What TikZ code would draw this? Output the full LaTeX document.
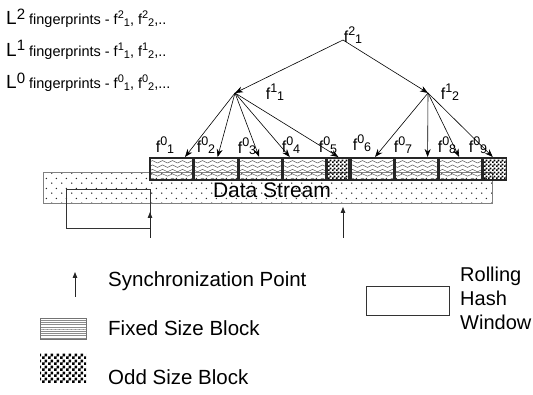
\documentclass[tikz,border=0pt]{standalone}
\usepackage{fontspec}
\setmainfont{Liberation Sans}
\usetikzlibrary{arrows.meta,patterns,calc}

% wavy lines for the fixed size blocks
\pgfdeclarepatternformonly{waves}{\pgfqpoint{-0.5pt}{-2pt}}{\pgfqpoint{10.5pt}{2pt}}{\pgfqpoint{10pt}{4.4pt}}{%
  \pgfsetlinewidth{0.45pt}%
  \pgfpathmoveto{\pgfqpoint{0pt}{0pt}}%
  \pgfpathcurveto{\pgfqpoint{1.8pt}{1.6pt}}{\pgfqpoint{3.2pt}{1.6pt}}{\pgfqpoint{5pt}{0pt}}%
  \pgfpathcurveto{\pgfqpoint{6.8pt}{-1.6pt}}{\pgfqpoint{8.2pt}{-1.6pt}}{\pgfqpoint{10pt}{0pt}}%
  \pgfusepath{stroke}}
% finer waves for the legend swatch
\pgfdeclarepatternformonly{finewaves}{\pgfqpoint{-0.5pt}{-1pt}}{\pgfqpoint{4.5pt}{1pt}}{\pgfqpoint{4pt}{2.2pt}}{%
  \pgfsetlinewidth{0.35pt}%
  \pgfpathmoveto{\pgfqpoint{0pt}{0pt}}%
  \pgfpathcurveto{\pgfqpoint{0.7pt}{0.6pt}}{\pgfqpoint{1.3pt}{0.6pt}}{\pgfqpoint{2pt}{0pt}}%
  \pgfpathcurveto{\pgfqpoint{2.7pt}{-0.6pt}}{\pgfqpoint{3.3pt}{-0.6pt}}{\pgfqpoint{4pt}{0pt}}%
  \pgfusepath{stroke}}
% checkerboards for the odd size blocks
\pgfdeclarepatternformonly{checks}{\pgfqpoint{0pt}{0pt}}{\pgfqpoint{4pt}{4pt}}{\pgfqpoint{4pt}{4pt}}{%
  \pgfpathrectangle{\pgfqpoint{0pt}{0pt}}{\pgfqpoint{2pt}{2pt}}%
  \pgfpathrectangle{\pgfqpoint{2pt}{2pt}}{\pgfqpoint{2pt}{2pt}}%
  \pgfusepath{fill}}
\pgfdeclarepatternformonly{bigchecks}{\pgfqpoint{0pt}{0pt}}{\pgfqpoint{6pt}{6pt}}{\pgfqpoint{6pt}{6pt}}{%
  \pgfpathrectangle{\pgfqpoint{0pt}{0pt}}{\pgfqpoint{3pt}{3pt}}%
  \pgfpathrectangle{\pgfqpoint{3pt}{3pt}}{\pgfqpoint{3pt}{3pt}}%
  \pgfusepath{fill}}
% sparse dots for the data stream
\pgfdeclarepatternformonly{sparsedots}{\pgfqpoint{0pt}{0pt}}{\pgfqpoint{10pt}{10pt}}{\pgfqpoint{10pt}{10pt}}{%
  \pgfpathcircle{\pgfqpoint{2pt}{2pt}}{0.8pt}%
  \pgfpathcircle{\pgfqpoint{7pt}{7pt}}{0.8pt}%
  \pgfusepath{fill}}

% f with superscript level and subscript index
\newcommand\fidx[2]{f\raisebox{0.42em}{\fontsize{12.5}{12}\selectfont #1}\raisebox{-0.05em}{\fontsize{12.5}{12}\selectfont #2}}
\newcommand\fsmall[2]{f\raisebox{0.4em}{\fontsize{11}{11}\selectfont #1}\raisebox{-0.15em}{\fontsize{11}{11}\selectfont #2}}
\newcommand\levelline[3]{{\fontsize{19}{19}\selectfont L\raisebox{0.28em}{\fontsize{15}{15}\selectfont #1}}{\fontsize{14.5}{14}\selectfont\ fingerprints - \fsmall{#1}{1}, \fsmall{#1}{2},#3}}

\begin{document}
\begin{tikzpicture}[x=1pt,y=-1pt,
  tree/.style={-{Stealth[length=8pt,width=6pt]}, line width=0.6pt},
  sync/.style={-{Triangle[length=6pt,width=4.5pt]}, line width=0.8pt, draw=black!85},
  fixedblk/.style={draw=black!85, line width=1.6pt, pattern=waves, pattern color=black!70,
    inner sep=0pt, minimum height=22pt, anchor=north west},
  oddblk/.style={fixedblk, pattern=checks, pattern color=black},
  lbl/.style={font=\fontsize{16}{16}\selectfont, inner sep=0pt},
  legend/.style={font=\fontsize{20.5}{24}\selectfont, anchor=west, inner sep=0pt}]
\useasboundingbox (0,0) rectangle (533,395);

% level captions
\node[anchor=west, inner sep=0pt] (cap2) at (6,18) {\levelline{2}{1}{..}};
\node[anchor=west, inner sep=0pt] (cap1) at (6,50) {\levelline{1}{1}{..}};
\node[anchor=west, inner sep=0pt] (cap0) at (6,82) {\levelline{0}{1}{...}};

% data stream with its blocks
\node[draw=black!50, line width=0.8pt, pattern=sparsedots, pattern color=black!85,
  inner sep=0pt, minimum width=449pt, minimum height=31pt, anchor=north west] (stream) at (43,172) {};
\node[font=\fontsize{21}{21}\selectfont, inner sep=0pt] (streamtxt) at (272,190) {Data Stream};

\node[fixedblk, minimum width=43pt] (b1) at (149,157) {};
\node[fixedblk, minimum width=43pt] (b2) at (b1.north east) {};
\node[fixedblk, minimum width=43pt] (b3) at (b2.north east) {};
\node[fixedblk, minimum width=42pt] (b4) at (b3.north east) {};
\node[oddblk,   minimum width=22pt] (b5) at (b4.north east) {};
\node[fixedblk, minimum width=43pt] (b6) at (b5.north east) {};
\node[fixedblk, minimum width=42pt] (b7) at (b6.north east) {};
\node[fixedblk, minimum width=43pt] (b8) at (b7.north east) {};
\node[oddblk,   minimum width=23pt] (b9) at (b8.north east) {};

% rolling hash window and synchronization points
\node[draw=black!80, line width=0.8pt, inner sep=0pt, minimum width=84pt, minimum height=39pt, anchor=north west] (win) at (66,189) {};
\coordinate (s1) at (150,238);
\coordinate (s1t) at (150,212);
\coordinate (s2) at (343,238);
\coordinate (s2t) at (343,207);
\draw[sync] (s1) -- (s1t);
\draw[sync] (s2) -- (s2t);

% fingerprint tree
\coordinate (r) at (343,40);
\coordinate (a) at (235,93);
\coordinate (b) at (428,93);
\node[lbl] (lr) at (353,35) {\fidx{2}{1}};
\node[lbl] (la) at (275,92) {\fidx{1}{1}};
\node[lbl] (lb) at (450,92) {\fidx{1}{2}};
\draw[tree] (r) -- (a);
\draw[tree] (r) -- (b);

\draw[tree] (a) -- ($(b1.north west)+(36,0)$);
\draw[tree] (a) -- ($(b2.north west)+(24,0)$);
\draw[tree] (a) -- ($(b3.north west)+(21,0)$);
\draw[tree] (a) -- ($(b4.north west)+(7,0)$);
\draw[tree] (a) -- ($(b5.north west)+(12,0)$);
\draw[tree] (b) -- ($(b6.north west)+(25,0)$);
\draw[tree] (b) -- ($(b7.north west)+(33,0)$);
\draw[tree] (b) -- ($(b8.north west)+(21,0)$);
\draw[tree] (b) -- ($(b9.north west)+(10,0)$);

\node[lbl] (l1) at (165,145) {\fidx{0}{1}};
\node[lbl] (l2) at (206,145) {\fidx{0}{2}};
\node[lbl] (l3) at (247,146) {\fidx{0}{3}};
\node[lbl] (l4) at (291,145) {\fidx{0}{4}};
\node[lbl] (l5) at (328,145) {\fidx{0}{5}};
\node[lbl] (l6) at (362,143) {\fidx{0}{6}};
\node[lbl] (l7) at (403,145) {\fidx{0}{7}};
\node[lbl] (l8) at (447,145) {\fidx{0}{8}};
\node[lbl] (l9) at (478,145) {\fidx{0}{9}};

% legend
\coordinate (ls) at (75,297);
\coordinate (lst) at (75,272);
\draw[sync] (ls) -- (lst);
\node[legend] (syncl) at (108,281) {Synchronization Point};
\node[draw=black!55, line width=0.6pt, pattern=finewaves, pattern color=black!45, inner sep=0pt,
  minimum width=46pt, minimum height=21pt, anchor=north west] (fixsw) at (40,318) {};
\node[legend] (fixl) at (108,328) {Fixed Size Block};
\node[pattern=bigchecks, pattern color=black, inner sep=0pt,
  minimum width=46pt, minimum height=29pt, anchor=north west] (oddsw) at (40,353) {};
\node[legend] (oddl) at (108,377) {Odd Size Block};
\node[draw=black!80, line width=0.8pt, inner sep=0pt, minimum width=83pt, minimum height=29pt, anchor=north west] (winsw) at (366,286) {};
\node[legend, font=\fontsize{20}{24}\selectfont, align=left, anchor=north west] (winl) at (460,267) {Rolling\\Hash\\Window};
\end{tikzpicture}
\end{document}
